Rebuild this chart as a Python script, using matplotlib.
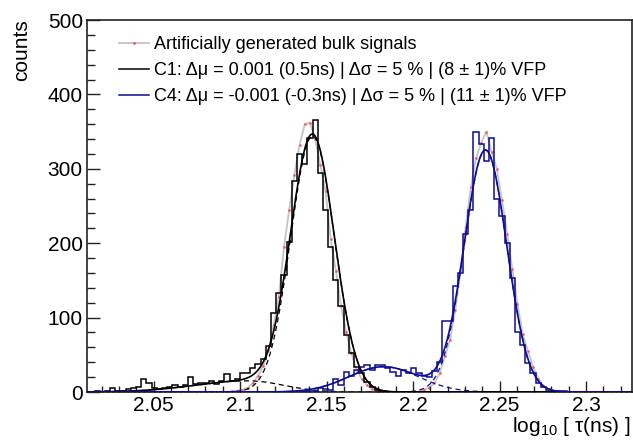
import numpy as np
import matplotlib
matplotlib.use("Agg")
import matplotlib.pyplot as plt
from matplotlib.ticker import MultipleLocator
from matplotlib.lines import Line2D

plt.rcParams['font.family'] = ['Liberation Sans', 'DejaVu Sans']
plt.rcParams['mathtext.fontset'] = 'custom'
plt.rcParams['mathtext.rm'] = 'Liberation Sans'
plt.rcParams['mathtext.it'] = 'Liberation Sans:italic'

# histogram binning (log10 tau), width 0.003
bin_lo = 2.0099
bin_w = 0.003
n_bins = 106

# C1 (black) counts, starting at bin 0
c1_counts = [0, 0, 1, 0, 2, 5, 2, 2, 4, 5, 7, 18, 12, 5, 4, 5, 7, 9, 7, 10,
             20, 11, 12, 12, 15, 11, 15, 24, 15, 17, 25, 26, 32, 38, 45, 62,
             106, 133, 157, 202, 284, 320, 307, 341, 366, 294, 245, 195, 150,
             115, 77, 52, 34, 25, 14, 7, 3, 1]

# C4 (blue) counts, starting at bin 41
c4_start = 41
c4_counts = [1, 2, 1, 2, 6, 4, 3, 17, 9, 27, 21, 30, 33, 36, 30, 36, 36, 32,
             27, 21, 30, 25, 32, 25, 22, 20, 28, 40, 96, 96, 142, 160, 212,
             245, 350, 334, 311, 342, 260, 236, 200, 153, 80, 63, 39, 25, 12,
             7, 3, 2, 1, 1]

# artificially generated bulk signals (gray), starting at bin 28
ref_start = 28
ref_counts = [1, 2, 3, 6, 12, 22, 35, 56, 90, 128, 195, 245, 292, 332, 360,
              362, 340, 305, 270, 205, 163, 115, 80, 52, 30, 17, 9, 4, 2, 1,
              0, 0, 0, 0, 0, 0, 0, 3, 6, 12, 25, 48, 70, 110, 162, 222, 275,
              314, 335, 350, 323, 300, 258, 213, 165, 118, 78, 55, 34, 18, 8,
              4, 2]

# fit components: amplitude, mean, sigma (left, right)
c1_peak = (344, 2.1419, 0.0126, 0.0126)
c1_tail = (15, 2.105, 0.031, 0.020)
c4_peak = (325, 2.2419, 0.0123, 0.0123)
c4_bump = (34, 2.183, 0.020, 0.020)

legend_labels = [
    "Artificially generated bulk signals",
    "C1: Δμ = 0.001 (0.5ns) | Δσ = 5 % | (8 ± 1)% VFP",
    "C4: Δμ = -0.001 (-0.3ns) | Δσ = 5 % | (11 ± 1)% VFP",
]

blue = '#0c0c96'
gray = '#c4c4c4'


def full(vals, start):
    h = np.zeros(n_bins)
    h[start:start + len(vals)] = vals
    return h


def gauss(x, p):
    a, m, sl, sr = p
    s = np.where(x < m, sl, sr)
    return a * np.exp(-0.5 * ((x - m) / s) ** 2)


edges = bin_lo + bin_w * np.arange(n_bins + 1)
centers = 0.5 * (edges[:-1] + edges[1:])
h1 = full(c1_counts, 0)
h4 = full(c4_counts, c4_start)
href = full(ref_counts, ref_start)

fig = plt.figure(figsize=(6.33, 4.40), dpi=100)
ax = fig.add_axes([87 / 633, 1 - 392 / 440, 545 / 633, 372 / 440])

# reference curve
ax.plot(centers, href, '-', color=gray, lw=1.3, zorder=1)
ax.plot(centers, href, '.', color='#ff5050', ms=2.0, alpha=0.8, zorder=1.5)

xs = np.linspace(2.0115, 2.3266, 800)
# fit components dashed
ax.plot(xs, gauss(xs, c1_peak), '--', color='k', lw=0.9, dashes=(4, 3), zorder=2)
ax.plot(xs, gauss(xs, c1_tail), '--', color='k', lw=0.9, dashes=(4, 3), zorder=2)
ax.plot(xs, gauss(xs, c4_peak), '--', color=blue, lw=0.9, dashes=(4, 3), zorder=2)
ax.plot(xs, gauss(xs, c4_bump), '--', color=blue, lw=0.9, dashes=(4, 3), zorder=2)

# histograms
ax.stairs(h1, edges, color='k', lw=1.1, zorder=3)
ax.stairs(h4, edges, color=blue, lw=1.1, zorder=3)

# total fits
ax.plot(xs, gauss(xs, c1_peak) + gauss(xs, c1_tail), '-', color='k', lw=1.2, zorder=4)
ax.plot(xs, gauss(xs, c4_peak) + gauss(xs, c4_bump), '-', color=blue, lw=1.2, zorder=4)

ax.set_xlim(2.0115, 2.3266)
ax.set_ylim(0, 500)

ax.xaxis.set_major_locator(MultipleLocator(0.05))
ax.xaxis.set_minor_locator(MultipleLocator(0.01))
ax.yaxis.set_major_locator(MultipleLocator(100))
ax.yaxis.set_minor_locator(MultipleLocator(20))
ax.set_xticks([2.05, 2.1, 2.15, 2.2, 2.25, 2.3])
ax.set_xticklabels(['2.05', '2.1', '2.15', '2.2', '2.25', '2.3'])
ax.tick_params(axis='both', which='both', direction='in', top=False, right=False,
               labelsize=15, color='#222222', width=1.0, pad=3)
ax.tick_params(axis='x', which='major', length=8)
ax.tick_params(axis='x', which='minor', length=4)
ax.tick_params(axis='y', which='major', length=9)
ax.tick_params(axis='y', which='minor', length=5.5)
for sp in ax.spines.values():
    sp.set_linewidth(1.2)
    sp.set_color('#222222')

fig.text(22 / 633, 1 - 19 / 440, 'counts', rotation=90, ha='center', va='top', fontsize=15)
fig.text(630 / 633, 1 - 432 / 440, r'log$_{10}$ [ τ(ns) ]', ha='right', va='baseline', fontsize=15)

handles = [Line2D([], [], color=gray, lw=1.3, marker='.', ms=2, mfc='#ff5050', mec='#ff5050'),
           Line2D([], [], color='k', lw=1.1),
           Line2D([], [], color=blue, lw=1.1)]
ax.legend(handles, legend_labels, loc='upper left', bbox_to_anchor=(0.058, 0.956),
          frameon=False, fontsize=13, handlelength=1.7, handletextpad=0.25,
          labelspacing=0.5, borderpad=0, borderaxespad=0)

fig.savefig('out.png', dpi=100)
